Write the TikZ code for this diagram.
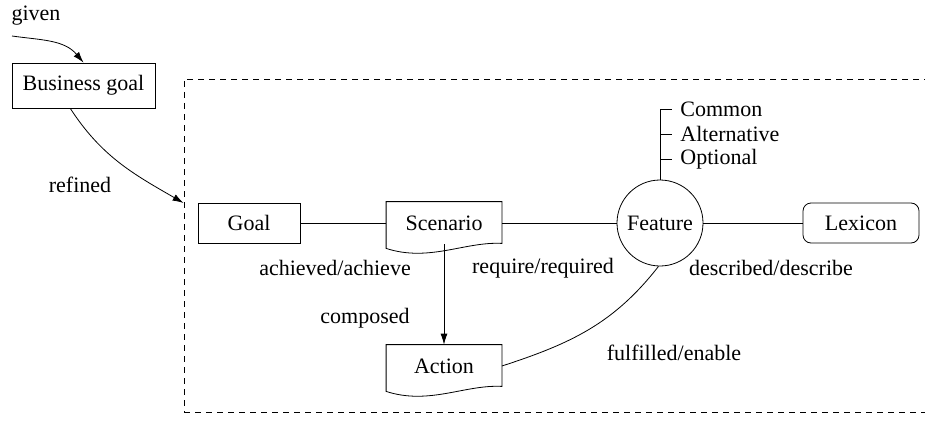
\documentclass[tikz,border=0pt]{standalone}
\usepackage{fontspec}
\setmainfont{Liberation Serif}
\usetikzlibrary{arrows.meta,positioning}

% outline of a document symbol round an (undrawn) node
\newcommand\docframe[1]{\draw (#1.north west) -- (#1.north east) -- ([yshift=1pt]#1.south east) .. controls +(-37,-2) and +(43,14) .. ([yshift=-4pt]#1.south west) -- cycle;}

\begin{document}
\begin{tikzpicture}[x=1pt,y=-1pt,line width=0.8pt,font=\rmfamily\fontsize{22}{26}\selectfont,
  box/.style={draw,minimum width=102pt,minimum height=40pt},
  doc/.style={minimum width=115pt,minimum height=42pt},
  arr/.style={-{Latex[length=11pt,width=7pt]}}]
\useasboundingbox (0,0) rectangle (925,420);

\node[draw,dash pattern=on 6pt off 5pt,minimum width=751pt,minimum height=333pt] (model) at (559.5,245.5) {};

\node (given) at (36,16) {given};
\coordinate (givenfrom) at (12,36);
\node[box,minimum width=143pt,minimum height=45pt] (bgoal) at (83.5,85.5) {Business goal};
\draw[arr] (givenfrom) to[out=-8,in=130] (bgoal.north);
\node (refined) at (80,185) {refined};
\draw[arr] (bgoal.240) to[out=-57,in=150] (model.west |- 0,203);

\node[box] (goal) at (249,223) {Goal};
\node[doc] (scenario) at (444,223) {Scenario};
\node[draw,circle,minimum size=86pt,inner sep=0pt] (feature) at (660,223) {Feature};
\node[box,rounded corners=8pt,minimum width=116pt] (lexicon) at (861,223) {Lexicon};
\node[doc] (action) at (444,366) {Action};
\docframe{scenario}
\docframe{action}

\draw (goal) -- (scenario);
\draw (scenario) -- (feature);
\draw (feature) -- (lexicon);
\draw[arr] (scenario.south) -- (action.north);
\draw (feature.268) to[out=232,in=18] (action.east);

% kinds of feature
\foreach \n/\t/\y in {common/Common/109,alternative/Alternative/134,optional/Optional/159}{
  \node[anchor=west,inner xsep=8pt] (\n) at (672,\y) {\t};
  \draw (feature.north |- \n.west) -- (\n.west);
}
\draw (feature.north) -- (feature.north |- common.west);

\node (achieved) at (335,268) {achieved/achieve};
\node (require) at (543,268) {require/required};
\node (described) at (771,268) {described/describe};
\node (composed) at (365,318) {composed};
\node (fulfilled) at (674,353) {fulfilled/enable};
\end{tikzpicture}
\end{document}
